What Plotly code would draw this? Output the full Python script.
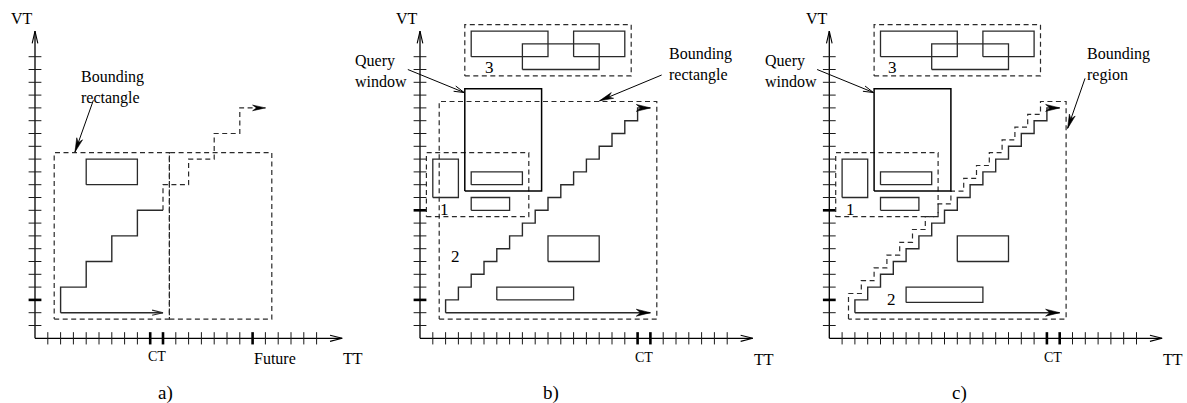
import math
import plotly.graph_objects as go

# ---------------- geometry / data (grid units of the diagrams) ----------------
PX_PER_UNIT = 12.8
FIG_W, FIG_H = 1187, 403
PANEL_ORIGIN_X = [35.0, 420.0, 829.3]   # pixel x of each panel's (0,0)
PANEL_ORIGIN_Y = 338.3                  # pixel y of (0,0)

# axes
A_XTICKS = [1, 2, 3, 4, 5, 6, 7, 8, 9, 10, 11, 12, 13, 14, 15, 16, 17, 18, 19, 20, 21, 22]
A_XTICKS_MAJOR = [9, 10, 17]
BC_XTICKS = [1, 2, 3, 4, 5, 6, 7, 8, 9, 10, 11, 12, 13, 14, 15, 16, 17, 18, 19, 20, 21, 22, 23, 24]
BC_XTICKS_MAJOR = [17, 18]
YTICKS = [1, 2, 3, 4, 5, 6, 7, 8, 9, 10, 11, 12, 13, 14, 15, 16, 17, 18, 19, 20, 21, 22]
A_YTICKS_MAJOR = [3]
BC_YTICKS_MAJOR = [3, 10]
A_AXIS_END = [24, 24]        # TT end, VT end
BC_AXIS_END = [26, 24]

# panel a
A_SOLID_RECTS = [[4, 8, 12, 14]]                       # x0, x1, y0, y1
A_DASHED_RECTS = [[1.5, 10.5, 1.5, 14.5], [10.5, 18.5, 1.5, 14.5]]
A_STAIR_SOLID = [2, 4, 6, 8, 10]
A_STAIR_DASHED = [10, 12, 14, 16, 18]
A_BASE_ARROW = [2, 10, 2]                              # x from, x to, y

# panels b and c
B_SOLID_RECTS = [[4, 10, 22, 24], [12, 16, 22, 24], [8, 14, 21, 23],
                 [1, 3, 11, 14], [4, 8, 12, 13], [4, 7, 10, 11],
                 [10, 14, 6, 8], [6, 12, 3, 4]]
C_SOLID_RECTS = [[4, 10, 22, 24], [12, 16, 22, 24], [8, 14, 21, 23],
                 [1, 3, 11, 14], [4, 8, 12, 13], [4, 7, 10, 11],
                 [10, 14, 6, 8], [6, 12, 2.8, 4]]
QUERY_WINDOW = [3.5, 9.5, 11.5, 19.5]
B_DASHED_RECTS = [[3.5, 16.5, 20.5, 24.5], [0.5, 8.5, 9.5, 14.5], [1.5, 18.5, 1.5, 18.5]]
C_DASHED_RECTS = [[3.5, 16.5, 20.5, 24.5], [0.5, 8.5, 9.5, 14.5]]
BC_STAIR = [2, 3, 4, 5, 6, 7, 8, 9, 10, 11, 12, 13, 14, 15, 16, 17, 18]
BC_BASE_ARROW = [2, 18, 2]
C_REGION_OFFSET = 0.5
C_REGION_FRAME = [1.5, 18.5]

# label arrows: tail x, tail y, head x, head y
A_LABEL_ARROWS = [[4.56, 18.6, 3.12, 14.55]]
B_LABEL_ARROWS = [[18.88, 20.57, 14.02, 18.55]]
C_LABEL_ARROWS = [[19.98, 20.31, 18.62, 16.4]]
BC_QUERY_ARROW = [-0.95, 21.0, 3.45, 19.2]

# texts: text, x, y, size, xanchor
A_TEXTS = [["VT", -0.98, 24.95, 16, "center"], ["TT", 24.85, -1.6, 16, "center"],
           ["CT", 9.53, -1.45, 14, "center"], ["Future", 17.0, -1.6, 16, "left"],
           ["Bounding<br>rectangle", 3.55, 19.63, 16, "left"],
           ["a)", 10.22, -4.25, 19, "center"]]
B_TEXTS = [["VT", -0.98, 24.95, 16, "center"], ["TT", 26.85, -1.65, 16, "center"],
           ["CT", 17.5, -1.48, 14, "center"],
           ["Query<br>window", -5.15, 20.92, 16, "left"],
           ["Bounding<br>rectangle", 19.4, 21.38, 16, "left"],
           ["1", 1.9, 10.1, 17, "center"], ["2", 2.81, 6.4, 17, "center"],
           ["3", 5.43, 21.13, 17, "center"], ["b)", 10.23, -4.25, 19, "center"]]
C_TEXTS = [["VT", -0.98, 24.95, 16, "center"], ["TT", 26.85, -1.65, 16, "center"],
           ["CT", 17.5, -1.48, 14, "center"],
           ["Query<br>window", -5.1, 20.92, 16, "left"],
           ["Bounding<br>region", 20.02, 21.4, 16, "left"],
           ["1", 1.64, 10.1, 17, "center"], ["2", 4.87, 3.02, 17, "center"],
           ["3", 4.96, 21.13, 17, "center"], ["c)", 10.15, -4.25, 19, "center"]]

# ---------------- styles ----------------
FONT = "Liberation Serif, Times New Roman, serif"
DASH = "5px,3.5px"
GRAY = "#2a2a2a"


# ---------------- helpers ----------------
def rects_path(rects):
    xs, ys = [], []
    for x0, x1, y0, y1 in rects:
        xs += [x0, x1, x1, x0, x0, None]
        ys += [y0, y0, y1, y1, y0, None]
    return xs, ys


def stair_path(steps):
    pts = [(steps[0], steps[0])]
    for i in range(len(steps) - 1):
        pts.append((steps[i], steps[i + 1]))
        pts.append((steps[i + 1], steps[i + 1]))
    return pts


def region_path(steps, off, frame):
    lo, hi = frame
    pts = [(lo, lo)]
    for i in range(len(steps) - 1):
        pts.append((steps[i] - off, steps[i + 1] + off))
        pts.append((steps[i + 1] - off, steps[i + 1] + off))
    pts += [(hi, hi), (hi, lo), (lo, lo)]
    return pts


def _dir(tail, tip):
    dx, dy = tip[0] - tail[0], tip[1] - tail[1]
    n = math.hypot(dx, dy)
    return dx / n, dy / n


def head_filled(tail, tip, length, half, notch=0.3):
    ux, uy = _dir(tail, tip)
    nx, ny = -uy, ux
    bx, by = tip[0] - length * ux, tip[1] - length * uy
    mx, my = tip[0] - length * (1 - notch) * ux, tip[1] - length * (1 - notch) * uy
    xs = [tip[0], bx + half * nx, mx, bx - half * nx, tip[0], None]
    ys = [tip[1], by + half * ny, my, by - half * ny, tip[1], None]
    return xs, ys


def head_open(tail, tip, length, half):
    ux, uy = _dir(tail, tip)
    nx, ny = -uy, ux
    bx, by = tip[0] - length * ux, tip[1] - length * uy
    xs = [bx + half * nx, tip[0], bx - half * nx, None]
    ys = [by + half * ny, tip[1], by - half * ny, None]
    return xs, ys


def pts_xy(pts):
    return [p[0] for p in pts] + [None], [p[1] for p in pts] + [None]


fig = go.Figure()


def add_line(xs, ys, ax, color=GRAY, width=1.3, dash=None, fill=False):
    xa, ya = ax
    line = dict(color=color, width=width)
    if dash:
        line["dash"] = dash
    kw = dict(x=xs, y=ys, mode="lines", line=line, xaxis=xa, yaxis=ya,
              hoverinfo="skip", showlegend=False)
    if fill:
        kw["fill"] = "toself"
        kw["fillcolor"] = color
    fig.add_trace(go.Scatter(**kw))


def draw_axes(ax, xticks, xmajor, ymajor, axis_end):
    xe, ye = axis_end
    add_line([0, 0, None, 0, xe, None], [0, ye, None, 0, 0, None], ax, color="black", width=1.3)
    hx, hy = head_open((0, 0), (xe, 0), 0.95, 0.24)
    vx, vy = head_open((0, 0), (0, ye), 0.95, 0.22)
    add_line(hx + vx, hy + vy, ax, color="black", width=1.1)
    tx, ty = [], []
    for t in xticks:
        if t not in xmajor:
            tx += [t, t, None]
            ty += [-0.48, 0.48, None]
    for t in YTICKS:
        if t not in ymajor:
            tx += [-0.5, 0.5, None]
            ty += [t, t, None]
    add_line(tx, ty, ax, color="#1a1a1a", width=1.0)
    mx, my = [], []
    for t in xmajor:
        mx += [t, t, None]
        my += [-0.48, 0.48, None]
    for t in ymajor:
        mx += [-0.5, 0.5, None]
        my += [t, t, None]
    add_line(mx, my, ax, color="black", width=2.6)


def draw_texts(texts, k):
    xr = "x" if k == 0 else "x%d" % (k + 1)
    yr = "y" if k == 0 else "y%d" % (k + 1)
    for txt, x, y, size, anchor in texts:
        fig.add_annotation(text=txt, x=x, y=y, xref=xr, yref=yr, showarrow=False,
                           xanchor=anchor, yanchor="middle", align="left", borderpad=0,
                           font=dict(family=FONT, size=size, color="black"))


def draw_label_arrows(arrows, ax, filled=True):
    for x0, y0, x1, y1 in arrows:
        add_line([x0, x1, None], [y0, y1, None], ax, color="black", width=1.0)
        if filled:
            hx, hy = head_filled((x0, y0), (x1, y1), 1.1, 0.24)
            add_line(hx, hy, ax, color="black", width=0.6, fill=True)
        else:
            hx, hy = head_open((x0, y0), (x1, y1), 0.8, 0.22)
            add_line(hx, hy, ax, color="black", width=1.0)


AXES = [("x", "y"), ("x2", "y2"), ("x3", "y3")]

# ---------------- panel a ----------------
ax = AXES[0]
draw_axes(ax, A_XTICKS, A_XTICKS_MAJOR, A_YTICKS_MAJOR, A_AXIS_END)
xs, ys = rects_path(A_DASHED_RECTS)
add_line(xs, ys, ax, dash=DASH, width=1.2)
xs, ys = rects_path(A_SOLID_RECTS)
add_line(xs, ys, ax)
xs, ys = pts_xy(stair_path(A_STAIR_SOLID))
add_line(xs, ys, ax, width=1.4)
xs, ys = pts_xy(stair_path(A_STAIR_DASHED))
add_line(xs, ys, ax, dash=DASH, width=1.2)
top = A_STAIR_DASHED[-1]
hx, hy = head_filled((top - 1, top), (top, top), 1.0, 0.22)
add_line(hx, hy, ax, color="black", width=0.6, fill=True)
bx0, bx1, by = A_BASE_ARROW
add_line([bx0, bx1, None], [by, by, None], ax, width=1.4)
hx, hy = head_open((bx0, by), (bx1, by), 0.85, 0.2)
add_line(hx, hy, ax, width=1.1)
draw_label_arrows(A_LABEL_ARROWS, ax)
draw_texts(A_TEXTS, 0)

# ---------------- panels b and c ----------------
for k, solid, dashed, label_arrows, texts in [
        (1, B_SOLID_RECTS, B_DASHED_RECTS, B_LABEL_ARROWS, B_TEXTS),
        (2, C_SOLID_RECTS, C_DASHED_RECTS, C_LABEL_ARROWS, C_TEXTS)]:
    ax = AXES[k]
    draw_axes(ax, BC_XTICKS, BC_XTICKS_MAJOR, BC_YTICKS_MAJOR, BC_AXIS_END)
    xs, ys = rects_path(dashed)
    add_line(xs, ys, ax, dash=DASH, width=1.2)
    if k == 2:
        xs, ys = pts_xy(region_path(BC_STAIR, C_REGION_OFFSET, C_REGION_FRAME))
        add_line(xs, ys, ax, dash=DASH, width=1.2)
    xs, ys = rects_path(solid)
    add_line(xs, ys, ax)
    xs, ys = rects_path([QUERY_WINDOW])
    add_line(xs, ys, ax, color="black", width=1.5)
    xs, ys = pts_xy(stair_path(BC_STAIR))
    add_line(xs, ys, ax, width=1.4)
    top = BC_STAIR[-1]
    bx0, bx1, by = BC_BASE_ARROW
    add_line([bx0, bx1, None], [by, by, None], ax, width=1.4)
    h1x, h1y = head_filled((top - 1, top), (top, top), 1.1, 0.27)
    h2x, h2y = head_filled((bx0, by), (bx1, by), 1.1, 0.27)
    add_line(h1x + h2x, h1y + h2y, ax, color="black", width=0.6, fill=True)
    draw_label_arrows(label_arrows, ax)
    draw_label_arrows([BC_QUERY_ARROW], ax, filled=False)
    draw_texts(texts, k)

# ---------------- layout ----------------
yrange = [(PANEL_ORIGIN_Y - FIG_H) / PX_PER_UNIT, PANEL_ORIGIN_Y / PX_PER_UNIT]
layout = dict(width=FIG_W, height=FIG_H, margin=dict(l=0, r=0, t=0, b=0),
              paper_bgcolor="white", plot_bgcolor="rgba(0,0,0,0)", showlegend=False)
for k, ox in enumerate(PANEL_ORIGIN_X):
    sfx = "" if k == 0 else str(k + 1)
    layout["xaxis" + sfx] = dict(domain=[0, 1], range=[-ox / PX_PER_UNIT, (FIG_W - ox) / PX_PER_UNIT],
                                 visible=False, fixedrange=True, anchor="y" + sfx)
    layout["yaxis" + sfx] = dict(domain=[0, 1], range=yrange, visible=False,
                                 fixedrange=True, anchor="x" + sfx)
fig.update_layout(**layout)
fig.write_html("out.html", config={"displayModeBar": False})
